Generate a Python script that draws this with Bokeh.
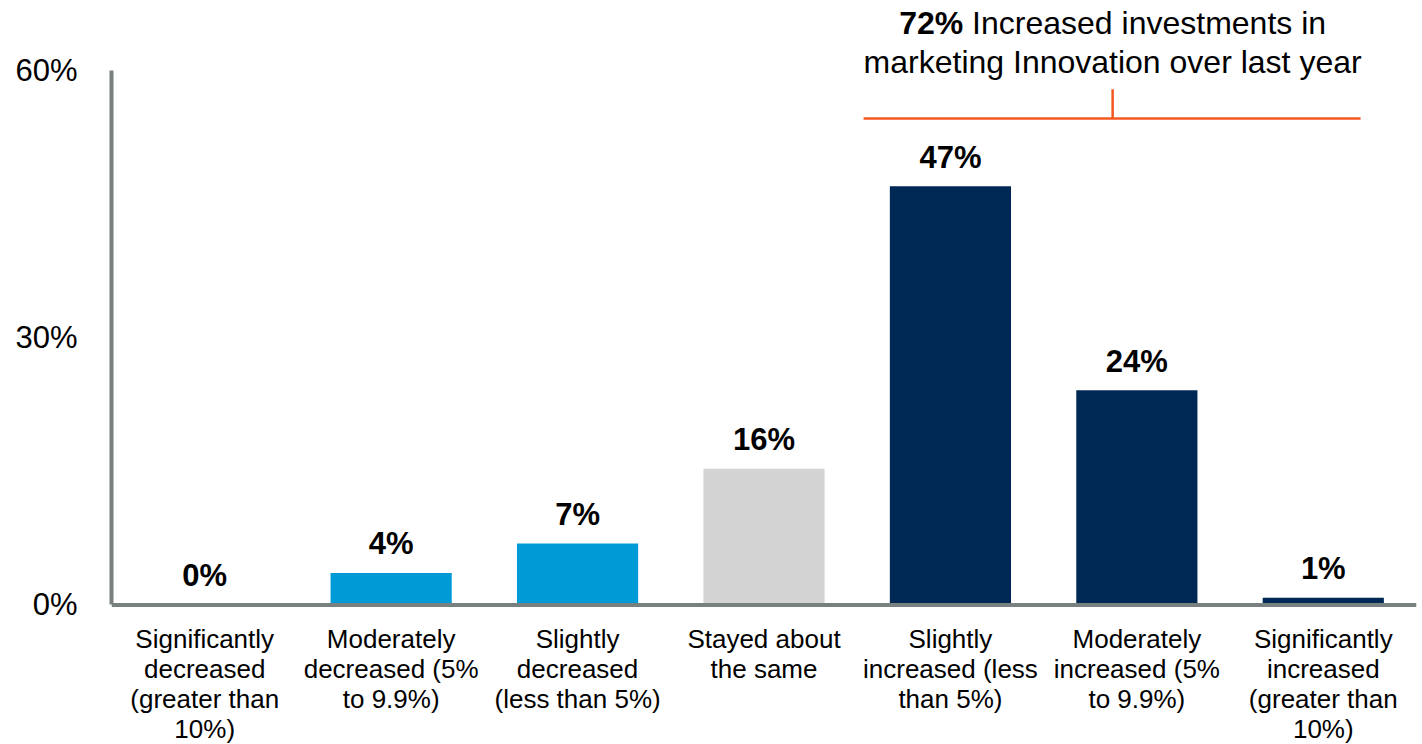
from bokeh.plotting import figure
from bokeh.models import ColumnDataSource, FixedTicker, Range1d, Span
from bokeh.core.properties import value
from bokeh.embed import file_html
from bokeh.resources import INLINE

# ---- data ----
categories = [
    "Significantly\ndecreased\n(greater than\n10%)",
    "Moderately\ndecreased (5%\nto 9.9%)",
    "Slightly\ndecreased\n(less than 5%)",
    "Stayed about\nthe same",
    "Slightly\nincreased (less\nthan 5%)",
    "Moderately\nincreased (5%\nto 9.9%)",
    "Significantly\nincreased\n(greater than\n10%)",
]
shares = [0.0, 3.6, 6.9, 15.3, 47.0, 24.1, 0.8]
share_labels = ["0%", "4%", "7%", "16%", "47%", "24%", "1%"]
y_ticks = [0, 30, 60]
y_tick_labels = ["0%", "30%", "60%"]
callout_bold = "72%"
callout_line1 = "Increased investments in"
callout_line2 = "marketing Innovation over last year"

# ---- styles ----
bar_colors = ["#009bd6", "#009bd6", "#009bd6", "#d3d3d3", "#002855", "#002855", "#002855"]
FONT = "Liberation Sans"
ORANGE = "#f4581f"
AXIS_GRAY = "#78817f"

xs = [i + 0.5 for i in range(len(categories))]
zeros = [0.0] * len(categories)
src = ColumnDataSource(dict(x=xs, top=shares, lab=share_labels, color=bar_colors,
                            cat=categories, zero=zeros))

W, H = 1422, 744
p = figure(width=W, height=H, output_backend="svg", toolbar_location=None,
           x_range=Range1d(0, len(categories)), y_range=Range1d(-15.66, 67.85),
           min_border_left=111, min_border_right=6, min_border_top=0, min_border_bottom=0)
p.outline_line_color = None
p.xgrid.visible = False
p.ygrid.visible = False
p.background_fill_color = "white"
p.border_fill_color = "white"
p.xaxis.visible = False

p.vbar(x="x", top="top", width=0.65, bottom=0, color="color", source=src, line_color=None)
p.text(x="x", y="top", text="lab", source=src, text_align="center", text_baseline="alphabetic",
       y_offset=-29, text_font=value(FONT), text_font_size="31px", text_font_style="bold",
       text_color="black")

# x axis line (baseline) and category labels
p.add_layout(Span(location=0, dimension="width", line_color=AXIS_GRAY, line_width=4))
p.text(x="x", y="zero", text="cat", source=src, text_align="center", text_baseline="top",
       y_offset=19, text_font=value(FONT), text_font_size="26px", text_color="black",
       text_line_height=1.0)

# y axis
ya = p.yaxis[0]
ya.ticker = FixedTicker(ticks=y_ticks)
ya.major_label_overrides = {t: l for t, l in zip(y_ticks, y_tick_labels)}
ya.bounds = (0, 60)
ya.major_tick_line_color = None
ya.minor_tick_line_color = None
ya.axis_line_color = AXIS_GRAY
ya.axis_line_width = 4
ya.major_label_text_font = FONT
ya.major_label_text_font_size = "31px"
ya.major_label_text_color = "black"
ya.major_label_standoff = 28

# callout bracket over the "increased" group
bx0, bx1, bxm = 4.034, 6.70, 5.37
by, byt = 54.6, 57.9
p.segment(x0=[bx0, bxm], y0=[by, by], x1=[bx1, bxm], y1=[by, byt],
          line_color=ORANGE, line_width=2.5)

# callout text (line 1: bold part + regular part, centred together)
p.text(x=[bxm], y=[60.9], text=[callout_line2], text_align="center", text_baseline="alphabetic",
       text_font=value(FONT), text_font_size="32px", text_color="black")
unit_px = 1305 / 7.0
bold_w = 2.278 * 32 / unit_px
rest_w = 11.06 * 32 / unit_px
start = bxm - (bold_w + rest_w) / 2
p.text(x=[start], y=[65.3], text=[callout_bold], text_align="left", text_baseline="alphabetic",
       text_font=value(FONT), text_font_size="32px", text_font_style="bold", text_color="black")
p.text(x=[start + bold_w], y=[65.3], text=[callout_line1], text_align="left", text_baseline="alphabetic",
       text_font=value(FONT), text_font_size="32px", text_color="black")

open("out.html", "w").write(file_html(p, INLINE))
